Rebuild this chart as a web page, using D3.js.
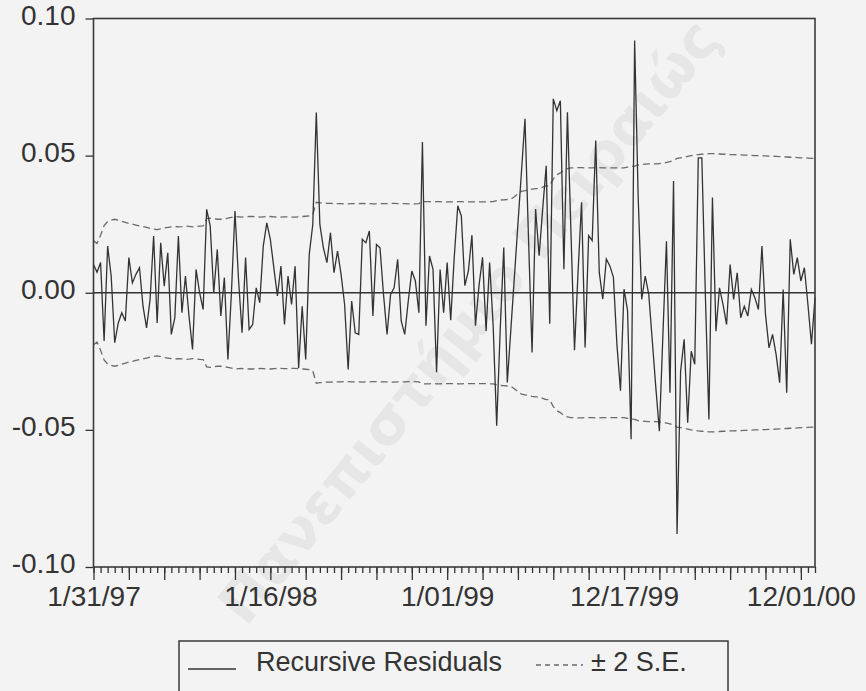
<!DOCTYPE html>
<html><head><meta charset="utf-8">
<script src="https://cdn.jsdelivr.net/npm/d3@7"></script>
<style>
html,body{margin:0;padding:0;background:#f3f3f3;}
svg{display:block;}
</style></head><body>
<svg id="chart" width="866" height="691"></svg>
<script>
// ---- data ----
const startDate = "1997-01-31";   // weekly (Friday) observations
const nObs = 205;
const residuals = [
 0.0103, 0.0075, 0.0110,-0.0176, 0.0170, 0.0061,-0.0182,-0.0110,-0.0073,-0.0103,
 0.0128, 0.0036, 0.0067, 0.0091,-0.0049,-0.0128,-0.0024, 0.0207,-0.0110, 0.0182,
 0.0024, 0.0146,-0.0152,-0.0091, 0.0207,-0.0073, 0.0061,-0.0085,-0.0207, 0.0085,
 0.0000,-0.0061, 0.0304, 0.0243, 0.0000, 0.0158,-0.0085, 0.0055,-0.0243, 0.0000,
 0.0298, 0.0049,-0.0146, 0.0128,-0.0134,-0.0116, 0.0018,-0.0036, 0.0170, 0.0255,
 0.0195, 0.0090,-0.0012, 0.0097,-0.0116, 0.0061,-0.0043, 0.0097,-0.0274,-0.0049,
-0.0243, 0.0140, 0.0249, 0.0657, 0.0249, 0.0164, 0.0110, 0.0219, 0.0073, 0.0152,
 0.0067,-0.0043,-0.0280,-0.0030,-0.0146,-0.0152, 0.0195, 0.0182, 0.0225,-0.0085,
 0.0176, 0.0164,-0.0006,-0.0152,-0.0006, 0.0018, 0.0122,-0.0103,-0.0152,-0.0030,
 0.0079, 0.0043,-0.0073, 0.0550,-0.0120, 0.0134, 0.0085,-0.0290, 0.0085,-0.0073,
 0.0110,-0.0100, 0.0130, 0.0317, 0.0280, 0.0026, 0.0080, 0.0210,-0.0120, 0.0026,
 0.0129,-0.0139, 0.0110,-0.0120,-0.0485,-0.0133, 0.0165,-0.0327,-0.0135, 0.0057,
 0.0250, 0.0440, 0.0634, 0.0197,-0.0218, 0.0305, 0.0135, 0.0305, 0.0463,-0.0113,
 0.0707, 0.0664, 0.0700, 0.0086, 0.0658, 0.0220,-0.0210, 0.0074, 0.0330,-0.0200,
 0.0208, 0.0190, 0.0555, 0.0074,-0.0023, 0.0123, 0.0098, 0.0056,-0.0190,-0.0357,
 0.0013,-0.0064,-0.0534, 0.0920, 0.0350,-0.0024, 0.0061,-0.0006,-0.0176,-0.0347,
-0.0505,-0.0152, 0.0188,-0.0365, 0.0407,-0.0880,-0.0286,-0.0170,-0.0474,-0.0213,
-0.0261, 0.0492, 0.0492,-0.0006,-0.0462, 0.0347,-0.0140, 0.0018,-0.0043,-0.0116,
 0.0103,-0.0024, 0.0073,-0.0091,-0.0049,-0.0085, 0.0012,-0.0018,-0.0061, 0.0170,
-0.0079,-0.0201,-0.0152,-0.0225,-0.0328, 0.0012,-0.0365, 0.0195, 0.0067, 0.0128,
 0.0043, 0.0091,-0.0043,-0.0188,-0.0018
];
// two standard errors (band drawn at +/- this value)
const twoSE = [
 0.0190, 0.0180, 0.0210, 0.0245, 0.0260, 0.0265, 0.0268, 0.0265, 0.0260, 0.0257,
 0.0253, 0.0250, 0.0247, 0.0244, 0.0241, 0.0238, 0.0235, 0.0232, 0.0230, 0.0233,
 0.0236, 0.0238, 0.0240, 0.0242, 0.0240, 0.0241, 0.0243, 0.0242, 0.0240, 0.0241,
 0.0243, 0.0244, 0.0270, 0.0272, 0.0270, 0.0268, 0.0268, 0.0270, 0.0272, 0.0275,
 0.0278, 0.0277, 0.0276, 0.0277, 0.0278, 0.0278, 0.0277, 0.0276, 0.0277, 0.0278,
 0.0278, 0.0277, 0.0276, 0.0276, 0.0277, 0.0277, 0.0276, 0.0276, 0.0277, 0.0278,
 0.0279, 0.0280, 0.0285, 0.0330, 0.0328, 0.0327, 0.0326, 0.0326, 0.0325, 0.0325,
 0.0325, 0.0324, 0.0324, 0.0325, 0.0325, 0.0325, 0.0326, 0.0325, 0.0325, 0.0324,
 0.0324, 0.0325, 0.0325, 0.0325, 0.0326, 0.0326, 0.0325, 0.0325, 0.0325, 0.0324,
 0.0324, 0.0324, 0.0325, 0.0333, 0.0332, 0.0332, 0.0331, 0.0332, 0.0332, 0.0331,
 0.0331, 0.0331, 0.0331, 0.0332, 0.0332, 0.0331, 0.0331, 0.0331, 0.0331, 0.0331,
 0.0331, 0.0331, 0.0332, 0.0332, 0.0336, 0.0338, 0.0339, 0.0340, 0.0341, 0.0350,
 0.0360, 0.0370, 0.0372, 0.0375, 0.0378, 0.0380, 0.0380, 0.0385, 0.0390, 0.0390,
 0.0415, 0.0430, 0.0437, 0.0447, 0.0453, 0.0455, 0.0456, 0.0456, 0.0456, 0.0455,
 0.0455, 0.0455, 0.0456, 0.0456, 0.0455, 0.0455, 0.0455, 0.0455, 0.0455, 0.0455,
 0.0455, 0.0458, 0.0460, 0.0462, 0.0466, 0.0468, 0.0469, 0.0470, 0.0470, 0.0470,
 0.0471, 0.0472, 0.0475, 0.0478, 0.0482, 0.0490, 0.0492, 0.0494, 0.0497, 0.0500,
 0.0502, 0.0504, 0.0505, 0.0506, 0.0507, 0.0507, 0.0507, 0.0506, 0.0505, 0.0505,
 0.0504, 0.0504, 0.0503, 0.0503, 0.0502, 0.0502, 0.0501, 0.0500, 0.0500, 0.0499,
 0.0499, 0.0498, 0.0498, 0.0497, 0.0496, 0.0496, 0.0495, 0.0494, 0.0494, 0.0493,
 0.0492, 0.0492, 0.0491, 0.0490, 0.0490
];
const yTicks = [0.10, 0.05, 0.00, -0.05, -0.10];
const yTickLabels = ["0.10", "0.05", "0.00", "-0.05", "-0.10"];
const xTickLabels = ["1/31/97", "1/16/98", "1/01/99", "12/17/99", "12/01/00"];
const legendLabels = ["Recursive Residuals", "\u00B1 2 S.E."];
const watermarkText = "Πανεπιστήμιο Πειραιώς";

// ---- layout ----
const W = 866, H = 691;
const L = 93.5, R = 815, T = 18.5, B = 567;
const ink = "#333333";
const font = "'Liberation Sans', Arial, sans-serif";

const svg = d3.select("#chart");
svg.append("rect").attr("width", W).attr("height", H).attr("fill", "#f3f3f3");

// watermark (faint, as in the scanned source) - sized to stay inside the page
svg.append("text")
  .attr("x", 722).attr("y", 40)
  .attr("transform", "rotate(-51,722,40)")
  .attr("text-anchor", "end")
  .attr("font-family", "'DejaVu Sans', 'Noto Sans', sans-serif")
  .attr("font-weight", "bold")
  .attr("font-size", 57)
  .attr("fill", "#e6e6e6")
  .text(watermarkText);

const start = d3.timeParse("%Y-%m-%d")(startDate);
const dates = d3.timeFriday.range(start, d3.timeFriday.offset(start, nObs));

const x = d3.scaleTime().domain([dates[0], dates[nObs - 1]]).range([L, R]);
const y = d3.scaleLinear().domain([-0.10, 0.10]).range([B, T]);

// x axis: minor ticks every 2 obs, major every 10, labels every 50
const gxMinor = svg.append("g").attr("transform", `translate(0,${B})`)
  .call(d3.axisBottom(x).tickValues(dates.filter((d, i) => i % 2 === 0)).tickSize(6).tickFormat(""));
const majorDates = dates.filter((d, i) => i % 10 === 0);
const gxMajor = svg.append("g").attr("transform", `translate(0,${B})`)
  .call(d3.axisBottom(x).tickValues(majorDates).tickSize(13)
    .tickFormat((d, i) => (i % 5 === 0 ? xTickLabels[i / 5] : "")));
[gxMinor, gxMajor].forEach(g => {
  g.select(".domain").remove();
  g.selectAll(".tick line").attr("stroke", ink).attr("stroke-width", 1.3);
});
gxMajor.selectAll(".tick text")
  .attr("y", 39).attr("dy", 0)
  .attr("font-family", font).attr("font-size", 28).attr("fill", ink);

// y axis
const gy = svg.append("g").attr("transform", `translate(${L},0)`)
  .call(d3.axisLeft(y).tickValues(yTicks).tickSize(8).tickPadding(10)
    .tickFormat((d, i) => yTickLabels[i]));
gy.select(".domain").remove();
gy.selectAll(".tick line").attr("stroke", ink).attr("stroke-width", 1.3);
gy.selectAll(".tick text")
  .attr("dy", "0.2em")
  .attr("font-family", font).attr("font-size", 28).attr("fill", ink);

// zero line
svg.append("line")
  .attr("x1", L).attr("x2", R).attr("y1", y(0)).attr("y2", y(0))
  .attr("stroke", ink).attr("stroke-width", 1.3);

// +/- 2 S.E. bands
const bandUp = d3.line().x((d, i) => x(dates[i])).y(d => y(d));
const bandDn = d3.line().x((d, i) => x(dates[i])).y(d => y(-d));
[bandUp, bandDn].forEach(gen => {
  svg.append("path").datum(twoSE).attr("d", gen)
    .attr("fill", "none").attr("stroke", "#6a6a6a")
    .attr("stroke-width", 1.3).attr("stroke-dasharray", "7,4");
});

// recursive residuals
svg.append("path").datum(residuals)
  .attr("d", d3.line().x((d, i) => x(dates[i])).y(d => y(d)))
  .attr("fill", "none").attr("stroke", ink).attr("stroke-width", 1.3)
  .attr("stroke-linejoin", "miter");

// frame
svg.append("rect")
  .attr("x", L).attr("y", T).attr("width", R - L).attr("height", B - T)
  .attr("fill", "none").attr("stroke", "#3a3a3a").attr("stroke-width", 1.6);

// legend
const lg = svg.append("g");
lg.append("rect").attr("x", 179).attr("y", 641).attr("width", 549).attr("height", 70)
  .attr("fill", "none").attr("stroke", "#3a3a3a").attr("stroke-width", 1.5);
lg.append("line").attr("x1", 188).attr("x2", 236).attr("y1", 669).attr("y2", 669)
  .attr("stroke", ink).attr("stroke-width", 1.3);
lg.append("text").attr("x", 256).attr("y", 671)
  .attr("font-family", font).attr("font-size", 27).attr("fill", ink)
  .text(legendLabels[0]);
lg.append("line").attr("x1", 536).attr("x2", 583).attr("y1", 665).attr("y2", 665)
  .attr("stroke", "#6a6a6a").attr("stroke-width", 1.3).attr("stroke-dasharray", "5,4");
lg.append("text").attr("x", 591).attr("y", 671)
  .attr("font-family", font).attr("font-size", 27).attr("fill", ink)
  .text(legendLabels[1]);
</script>
</body></html>
